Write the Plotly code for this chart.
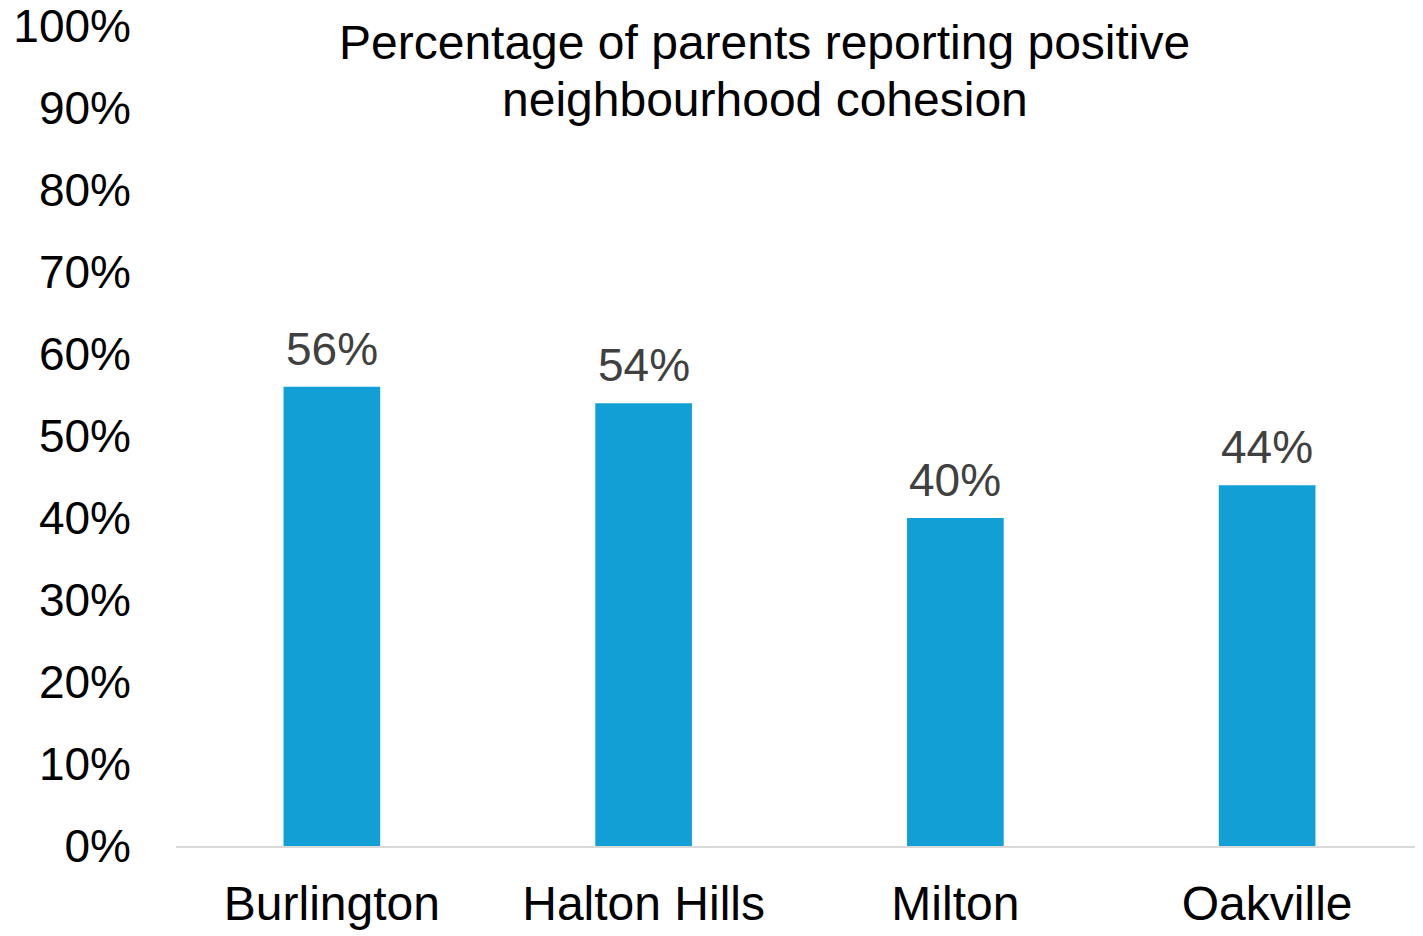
import plotly.graph_objects as go

categories = ["Burlington", "Halton Hills", "Milton", "Oakville"]
values = [0.56, 0.54, 0.40, 0.44]
value_labels = ["56%", "54%", "40%", "44%"]
title_lines = ["Percentage of parents reporting positive", "neighbourhood cohesion"]

FONT = "Liberation Sans, Arial, sans-serif"

fig = go.Figure(
    go.Bar(
        x=categories,
        y=values,
        marker=dict(color="#119FD6", line=dict(width=0)),
        width=0.31,
        hoverinfo="x+y",
    )
)

fig.update_layout(
    width=1415,
    height=928,
    margin=dict(l=168, r=0, t=18, b=90),
    paper_bgcolor="white",
    plot_bgcolor="white",
    showlegend=False,
    font=dict(family=FONT, size=46, color="black"),
)

fig.update_yaxes(
    range=[0, 1.0001],
    tickvals=[i / 10 for i in range(11)],
    tickformat=".0%",
    showgrid=False,
    zeroline=False,
    showline=False,
    ticks="",
    ticklabelstandoff=44,
    ticklabeloverflow="allow",
    automargin=False,
    tickfont=dict(family=FONT, size=46, color="black"),
)
fig.update_xaxes(
    showline=True,
    linecolor="#D9D9D9",
    linewidth=2,
    ticks="",
    ticklabelstandoff=14,
    automargin=False,
    tickfont=dict(family=FONT, size=48, color="black"),
)

for c, v, lab in zip(categories, values, value_labels):
    fig.add_annotation(
        x=c, y=v, text=lab, xref="x", yref="y",
        xanchor="center", yanchor="bottom", yshift=10,
        showarrow=False,
        font=dict(family=FONT, size=46, color="#404040"),
    )

for line, py in zip(title_lines, [0.9793, 0.9098]):
    fig.add_annotation(
        text=line,
        xref="paper",
        yref="paper",
        x=0.4723,
        y=py,
        xanchor="center",
        yanchor="middle",
        showarrow=False,
        font=dict(family=FONT, size=48, color="black"),
    )

fig.write_html("out.html")
